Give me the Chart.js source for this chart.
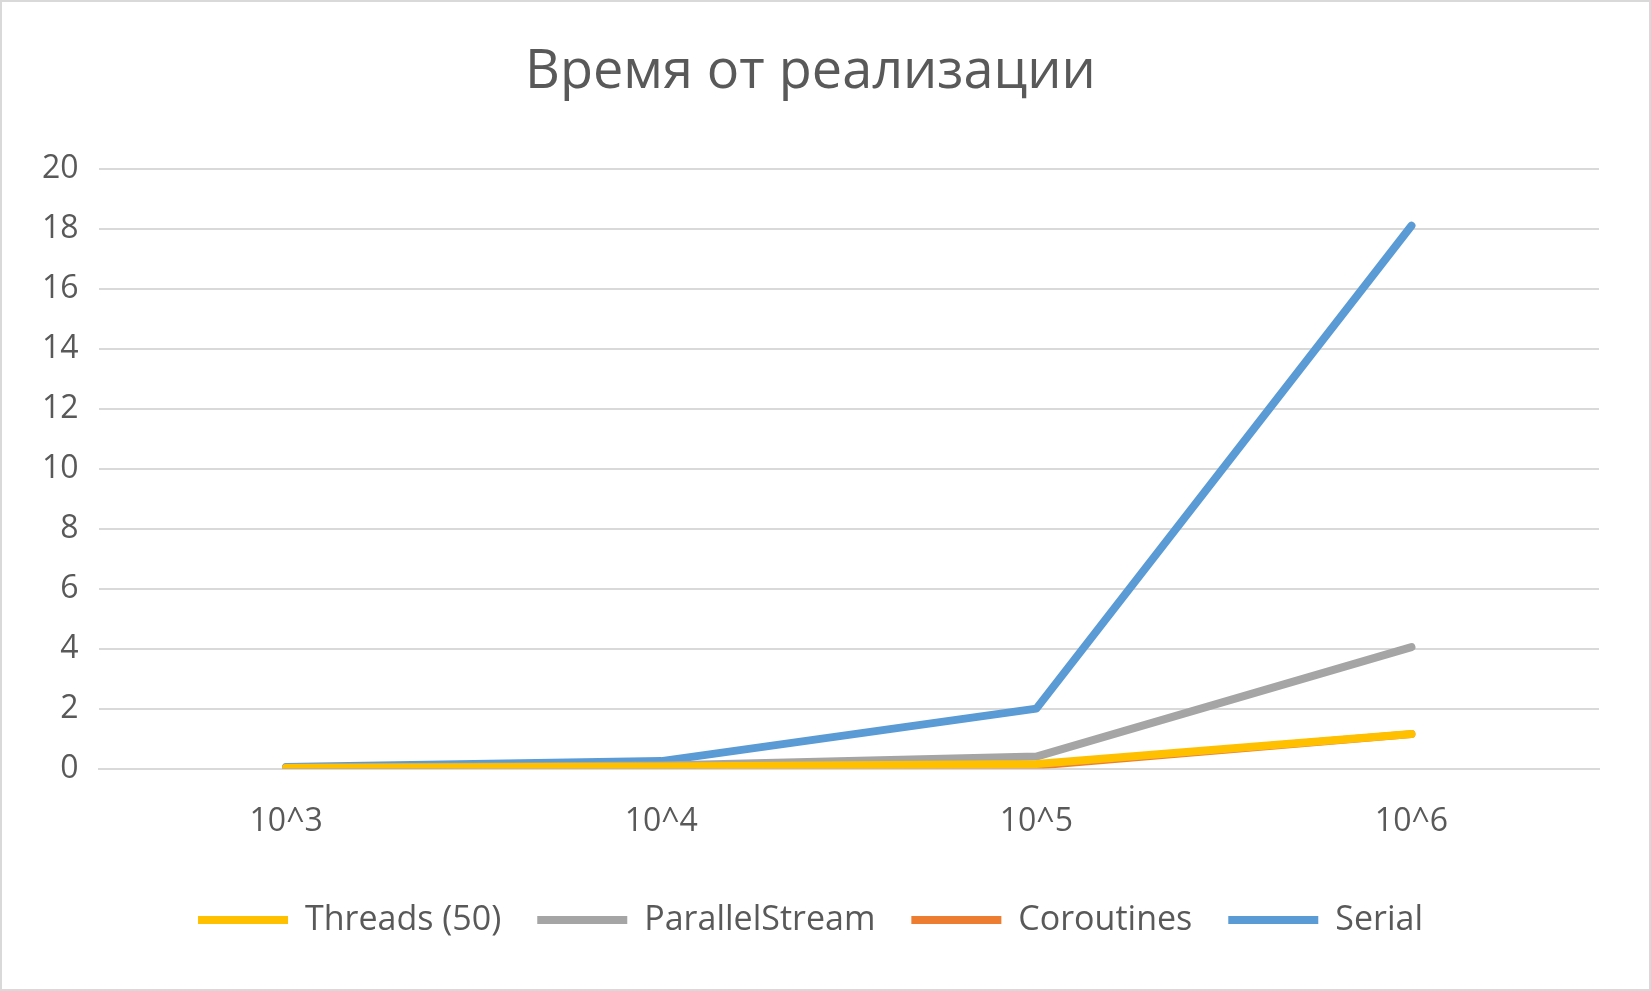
<!DOCTYPE html>
<html>
<head>
<meta charset="utf-8">
<script src="https://cdn.jsdelivr.net/npm/chart.js@4"></script>
<style>
  html, body { margin: 0; padding: 0; background: #fff; }
  #wrap { position: absolute; left: 0; top: 0; width: 1647px; height: 987px; border: 2px solid #d9d9d9; }
</style>
</head>
<body>
<div id="wrap"><canvas id="chart"></canvas></div>
<script>
const categories = ['10^3', '10^4', '10^5', '10^6'];
const serial = [0.05, 0.25, 2.0, 18.1];
const coroutines = [0.02, 0.08, 0.1, 1.15];
const parallelStream = [0.03, 0.1, 0.4, 4.05];
const threads50 = [0.02, 0.07, 0.15, 1.15];

function series(label, data, color, order) {
    return { label, data, order, borderColor: color, backgroundColor: color, borderWidth: 8, pointRadius: 0, tension: 0, borderCapStyle: 'round', borderJoinStyle: 'round' };
}

const font = { family: 'Open Sans, Calibri, sans-serif' };

new Chart(document.getElementById('chart'), {
    type: 'line',
    data: {
        labels: categories,
        datasets: [
            series('Serial', serial, '#5b9bd5', 3),
            series('Coroutines', coroutines, '#ed7d31', 2),
            series('ParallelStream', parallelStream, '#a5a5a5', 1),
            series('Threads (50)', threads50, '#ffc000', 0)
        ]
    },
    options: {
        responsive: true,
        maintainAspectRatio: false,
        animation: false,
        layout: { padding: { left: 20, right: 50, top: 20, bottom: 42 } },
        plugins: {
            title: {
                display: true,
                text: 'Время от реализации',
                color: '#595959',
                font: { ...font, size: 54, weight: 'normal' },
                padding: { top: 18, bottom: 64 }
            },
            legend: {
                position: 'bottom',
                labels: {
                    usePointStyle: true,
                    pointStyle: 'line',
                    pointStyleWidth: 90,
                    color: '#595959',
                    font: { ...font, size: 34 },
                    padding: 36
                }
            },
            tooltip: { enabled: false }
        },
        scales: {
            x: {
                offset: true,
                grid: { display: false },
                border: { color: '#d9d9d9', width: 2 },
                ticks: { color: '#595959', font: { ...font, size: 32 }, padding: 26 }
            },
            y: {
                min: 0,
                max: 20,
                ticks: { stepSize: 2, color: '#595959', font: { ...font, size: 32 }, padding: 20 },
                grid: { color: '#d9d9d9', lineWidth: 2, drawTicks: false },
                border: { display: false }
            }
        }
    }
});
</script>
</body>
</html>
